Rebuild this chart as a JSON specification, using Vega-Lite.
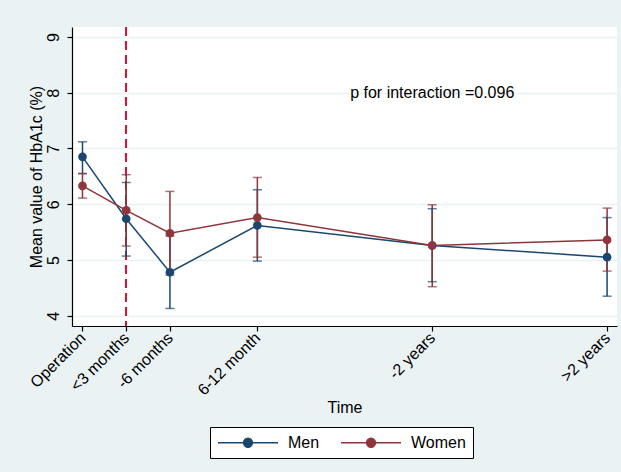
{
  "$schema": "https://vega.github.io/schema/vega-lite/v6.json",
  "autosize": "none",
  "width": 545,
  "height": 299,
  "padding": {"left": 72, "top": 27, "right": 4, "bottom": 146},
  "background": "#EAF2F3",
  "config": {
    "font": "Liberation Sans",
    "view": {"fill": "white", "stroke": null},
    "axis": {"labelFont": "Liberation Sans", "titleFont": "Liberation Sans", "labelColor": "black", "titleColor": "black", "domainColor": "black", "tickColor": "black", "labelFontSize": 16, "titleFontSize": 16, "titleFontWeight": "normal", "tickSize": 5, "domainWidth": 1.2, "tickWidth": 1.2}
  },
  "data": {
    "values": [
      {"series": "Men", "t": 0, "mean": 6.85, "lo": 6.55, "hi": 7.12},
      {"series": "Men", "t": 3, "mean": 5.74, "lo": 5.07, "hi": 6.39},
      {"series": "Men", "t": 6, "mean": 4.78, "lo": 4.13, "hi": 5.43},
      {"series": "Men", "t": 12, "mean": 5.62, "lo": 4.98, "hi": 6.26},
      {"series": "Men", "t": 24, "mean": 5.26, "lo": 4.61, "hi": 5.92},
      {"series": "Men", "t": 36, "mean": 5.05, "lo": 4.35, "hi": 5.76},
      {"series": "Women", "t": 0, "mean": 6.33, "lo": 6.11, "hi": 6.55},
      {"series": "Women", "t": 3, "mean": 5.89, "lo": 5.25, "hi": 6.53},
      {"series": "Women", "t": 6, "mean": 5.48, "lo": 4.73, "hi": 6.23},
      {"series": "Women", "t": 12, "mean": 5.76, "lo": 5.05, "hi": 6.48},
      {"series": "Women", "t": 24, "mean": 5.26, "lo": 4.52, "hi": 5.99},
      {"series": "Women", "t": 36, "mean": 5.36, "lo": 4.8, "hi": 5.93}
    ]
  },
  "encoding": {
    "x": {
      "field": "t", "type": "quantitative",
      "scale": {"domain": [-0.72, 36.68], "nice": false, "zero": false},
      "axis": {
        "title": "Time", "grid": false, "values": [0, 3, 6, 12, 24, 36],
        "labelExpr": "datum.value == 0 ? 'Operation' : datum.value == 3 ? '<3 months' : datum.value == 6 ? '-6 months' : datum.value == 12 ? '6-12 month' : datum.value == 24 ? '-2 years' : '>2 years'",
        "labelAngle": -45, "labelAlign": "right", "labelBaseline": "middle", "labelPadding": 4,
        "titleY": 73, "titleBaseline": "top", "labelFlush": false, "labelOverlap": false
      }
    }
  },
  "layer": [
    {
      "mark": {"type": "rule", "color": "#E0103A", "strokeDash": [9, 5], "strokeWidth": 1.3},
      "encoding": {"x": {"datum": 3}}
    },
    {
      "mark": {"type": "rule", "strokeWidth": 1.5},
      "encoding": {
        "y": {"field": "lo", "type": "quantitative",
          "scale": {"domain": [3.815, 9.18], "nice": false, "zero": false},
          "axis": {"title": "Mean value of HbA1c (%)", "values": [4, 5, 6, 7, 8, 9], "format": "d", "grid": true, "gridColor": "#EAF2F3", "gridWidth": 1.5, "labelAngle": -90, "labelAlign": "center", "labelBaseline": "bottom", "labelPadding": 6, "titlePadding": 1}},
        "y2": {"field": "hi"},
        "color": {"field": "series", "type": "nominal", "scale": {"domain": ["Men", "Women"], "range": ["#1a476f", "#90353b"]}}
      }
    },
    {
      "mark": {"type": "tick", "orient": "horizontal", "size": 9, "thickness": 1.5},
      "encoding": {"y": {"field": "lo", "type": "quantitative"}, "color": {"field": "series", "type": "nominal"}}
    },
    {
      "mark": {"type": "tick", "orient": "horizontal", "size": 9, "thickness": 1.5},
      "encoding": {"y": {"field": "hi", "type": "quantitative"}, "color": {"field": "series", "type": "nominal"}}
    },
    {
      "mark": {"type": "line", "strokeWidth": 1.5},
      "encoding": {
        "y": {"field": "mean", "type": "quantitative"},
        "color": {"field": "series", "type": "nominal",
          "legend": {
            "title": null, "orient": "none", "legendX": 138, "legendY": 400, "direction": "horizontal",
            "symbolType": "M-1,0H7M3.6,0A0.6,0.6,0,1,1,2.4,0A0.6,0.6,0,1,1,3.6,0Z",
            "symbolSize": 225, "symbolStrokeWidth": 1.3, "labelFontSize": 16, "labelFont": "Liberation Sans", "labelColor": "black",
            "labelOffset": 54, "columnPadding": 18, "padding": 7, "strokeColor": "black", "fillColor": "white", "cornerRadius": 0,
            "encode": {"symbols": {"update": {"fill": {"scale": "color", "field": "value"}, "stroke": {"scale": "color", "field": "value"}, "opacity": {"value": 1}}}}
          }
        }
      }
    },
    {
      "mark": {"type": "point", "filled": true, "size": 75, "opacity": 1},
      "encoding": {"y": {"field": "mean", "type": "quantitative"}, "color": {"field": "series", "type": "nominal"}}
    },
    {
      "data": {"values": [{"t": 24, "v": 8, "label": "p for interaction =0.096"}]},
      "mark": {"type": "text", "fontSize": 16, "font": "Liberation Sans", "align": "center", "baseline": "middle", "color": "black"},
      "encoding": {"y": {"field": "v", "type": "quantitative"}, "text": {"field": "label"}}
    }
  ]
}
